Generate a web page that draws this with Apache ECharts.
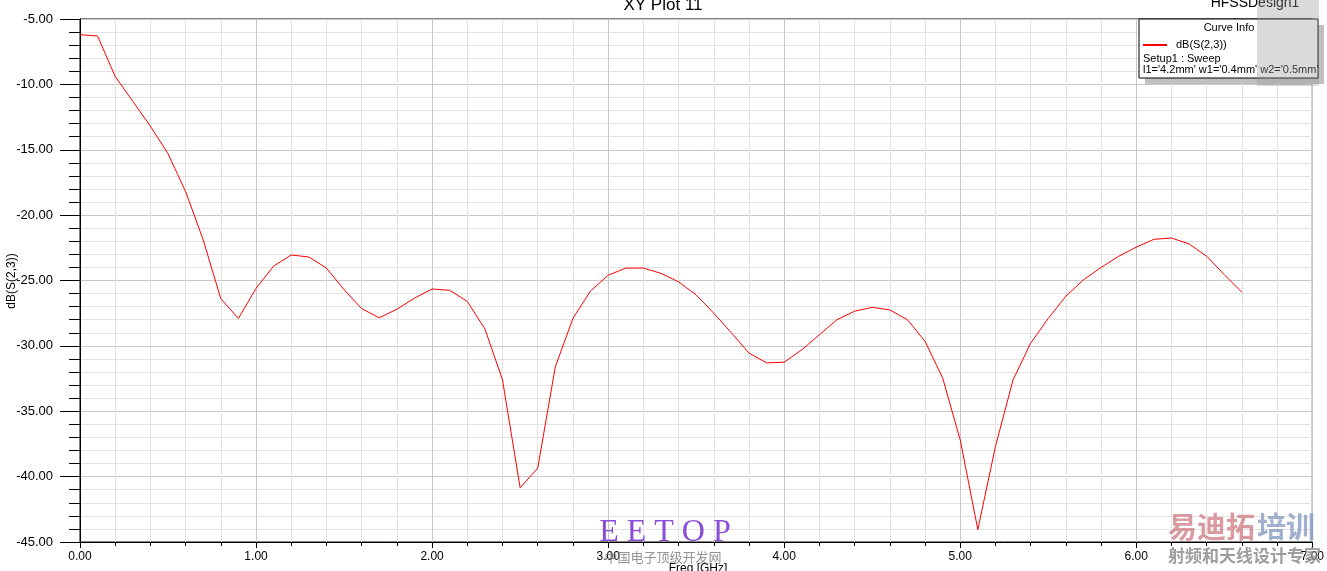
<!DOCTYPE html>
<html>
<head>
<meta charset="utf-8">
<script src="https://cdn.jsdelivr.net/npm/echarts@6/dist/echarts.min.js"></script>
<style>
html,body{margin:0;padding:0;background:#fff;}
#chart{width:1327px;height:571px;}
</style>
</head>
<body>
<div id="chart"></div>
<script>
var freq = [0.0,0.1,0.2,0.3,0.4,0.5,0.6,0.7,0.8,0.9,
            1.0,1.1,1.2,1.3,1.4,1.5,1.6,1.7,1.8,1.9,
            2.0,2.1,2.2,2.3,2.4,2.5,2.6,2.7,2.8,2.9,
            3.0,3.1,3.2,3.3,3.4,3.5,3.6,3.7,3.8,3.9,
            4.0,4.1,4.2,4.3,4.4,4.5,4.6,4.7,4.8,4.9,
            5.0,5.1,5.2,5.3,5.4,5.5,5.6,5.7,5.8,5.9,
            6.0,6.1,6.2,6.3,6.4,6.5,6.6];
var dbS23 = [-6.2,-6.3,-9.4,-11.3,-13.2,-15.3,-18.2,-21.9,-26.4,-27.9,
             -25.6,-23.9,-23.05,-23.2,-24.05,-25.7,-27.15,-27.85,-27.2,-26.35,
             -25.65,-25.75,-26.6,-28.7,-32.6,-40.85,-39.35,-31.6,-27.9,-25.8,
             -24.6,-24.05,-24.05,-24.45,-25.1,-26.1,-27.5,-29.0,-30.55,-31.3,
             -31.25,-30.3,-29.15,-28.0,-27.35,-27.05,-27.25,-28.0,-29.65,-32.45,
             -37.2,-44.05,-37.7,-32.6,-29.8,-27.9,-26.2,-24.95,-24.0,-23.15,
             -22.45,-21.85,-21.75,-22.2,-23.15,-24.55,-25.9];
var xTicks = {min:0, max:7, step:1};
var yTicks = {min:-45, max:-5, step:5};
var titleText = 'XY Plot 11';
var designText = 'HFSSDesign1';
var curveName = 'dB(S(2,3))';
var setupText = 'Setup1 : Sweep';
var paramText = "l1='4.2mm' w1='0.4mm' w2='0.5mm'";
var xName = 'Freq [GHz]';
var yName = 'dB(S(2,3))';

var points = freq.map(function(f,i){return [f, dbS23[i]];});
var FONT = 'Liberation Sans, Arial, sans-serif';

var chart = echarts.init(document.getElementById('chart'));
chart.setOption({
  animation:false,
  backgroundColor:'#fff',
  grid:{left:80, top:19, width:1237, height:523, show:true, borderColor:'#000', borderWidth:1, backgroundColor:'transparent'},
  xAxis:{
    type:'value', min:xTicks.min, max:xTicks.max, interval:xTicks.step,
    axisLine:{show:true, onZero:false, lineStyle:{color:'#000', width:1}},
    axisTick:{show:true, length:6, lineStyle:{color:'#000'}},
    minorTick:{show:true, splitNumber:5, length:4, lineStyle:{color:'#000'}},
    splitLine:{show:true, lineStyle:{color:'#c8c8c8', width:1}},
    minorSplitLine:{show:true, lineStyle:{color:'#e3e3e3', width:1}},
    axisLabel:{margin:9, color:'#000', fontSize:12, fontFamily:FONT, formatter:function(v){return v.toFixed(2);}}
  },
  yAxis:{
    type:'value', min:yTicks.min, max:yTicks.max, interval:yTicks.step,
    axisLine:{show:true, onZero:false, lineStyle:{color:'#000', width:1}},
    axisTick:{show:true, length:20, lineStyle:{color:'#000'}},
    minorTick:{show:true, splitNumber:5, length:11, lineStyle:{color:'#000'}},
    splitLine:{show:true, lineStyle:{color:'#c8c8c8', width:1}},
    minorSplitLine:{show:true, lineStyle:{color:'#e3e3e3', width:1}},
    axisLabel:{margin:27, color:'#000', fontSize:13, fontFamily:FONT, formatter:function(v){return v.toFixed(2);}}
  },
  series:[{
    type:'line', data:points, showSymbol:false, symbol:'none',
    lineStyle:{color:'#ff0000', width:1}, z:3
  }],
  graphic:[
    {type:'text', z:10, style:{text:titleText, x:663, y:5, align:'center', verticalAlign:'middle', font:'17px '+FONT, fill:'#000'}},
    {type:'text', z:10, style:{text:designText, x:1255, y:3, align:'center', verticalAlign:'middle', font:'14px '+FONT, fill:'#000'}},
    {type:'text', z:10, x:12, y:281, rotation:Math.PI/2, style:{text:yName, x:0, y:0, align:'center', verticalAlign:'middle', font:'12px '+FONT, fill:'#000'}},
    {type:'text', z:10, style:{text:xName, x:698, y:569, align:'center', verticalAlign:'middle', font:'12px '+FONT, fill:'#000'}},
    {type:'rect', z:20, shape:{x:1145, y:25, width:179, height:59}, style:{fill:'#c0c0c0'}},
    {type:'rect', z:21, shape:{x:1139, y:19, width:179, height:59}, style:{fill:'#fff', stroke:'#000', lineWidth:1}},
    {type:'text', z:22, style:{text:'Curve Info', x:1229, y:28, align:'center', verticalAlign:'middle', font:'11px '+FONT, fill:'#000'}},
    {type:'line', z:22, shape:{x1:1143, y1:45, x2:1167, y2:45}, style:{stroke:'#ff0000', lineWidth:2}},
    {type:'text', z:22, style:{text:curveName, x:1176, y:45, align:'left', verticalAlign:'middle', font:'11px '+FONT, fill:'#000'}},
    {type:'text', z:22, style:{text:setupText, x:1143, y:59, align:'left', verticalAlign:'middle', font:'11px '+FONT, fill:'#000'}},
    {type:'text', z:22, style:{text:paramText, x:1143, y:70, align:'left', verticalAlign:'middle', font:'11px '+FONT, fill:'#000'}},
    {type:'rect', z:25, shape:{x:1257, y:0, width:62, height:86}, style:{fill:'rgba(150,150,150,0.35)'}},
    {type:'text', z:30, style:{text:'E E T O P', x:665, y:533, align:'center', verticalAlign:'middle', font:'32px Liberation Serif, serif', fill:'#8a4fd6'}},
    {type:'text', z:30, style:{text:'中国电子顶级开发网', x:663, y:557, align:'center', verticalAlign:'middle', font:'13px Noto Sans CJK SC', fill:'rgba(120,120,120,0.8)'}},
    {type:'text', z:30, style:{text:'易迪拓', x:1168, y:527, align:'left', verticalAlign:'middle', font:'bold 29px Noto Sans CJK SC', fill:'rgba(205,120,130,0.75)'}},
    {type:'text', z:30, style:{text:'培训', x:1257, y:527, align:'left', verticalAlign:'middle', font:'bold 29px Noto Sans CJK SC', fill:'rgba(130,150,190,0.75)'}},
    {type:'text', z:30, style:{text:'射频和天线设计专家', x:1168, y:556, align:'left', verticalAlign:'middle', font:'bold 17px Noto Sans CJK SC', fill:'rgba(140,140,140,0.85)'}}
  ]
});
</script>
</body>
</html>
